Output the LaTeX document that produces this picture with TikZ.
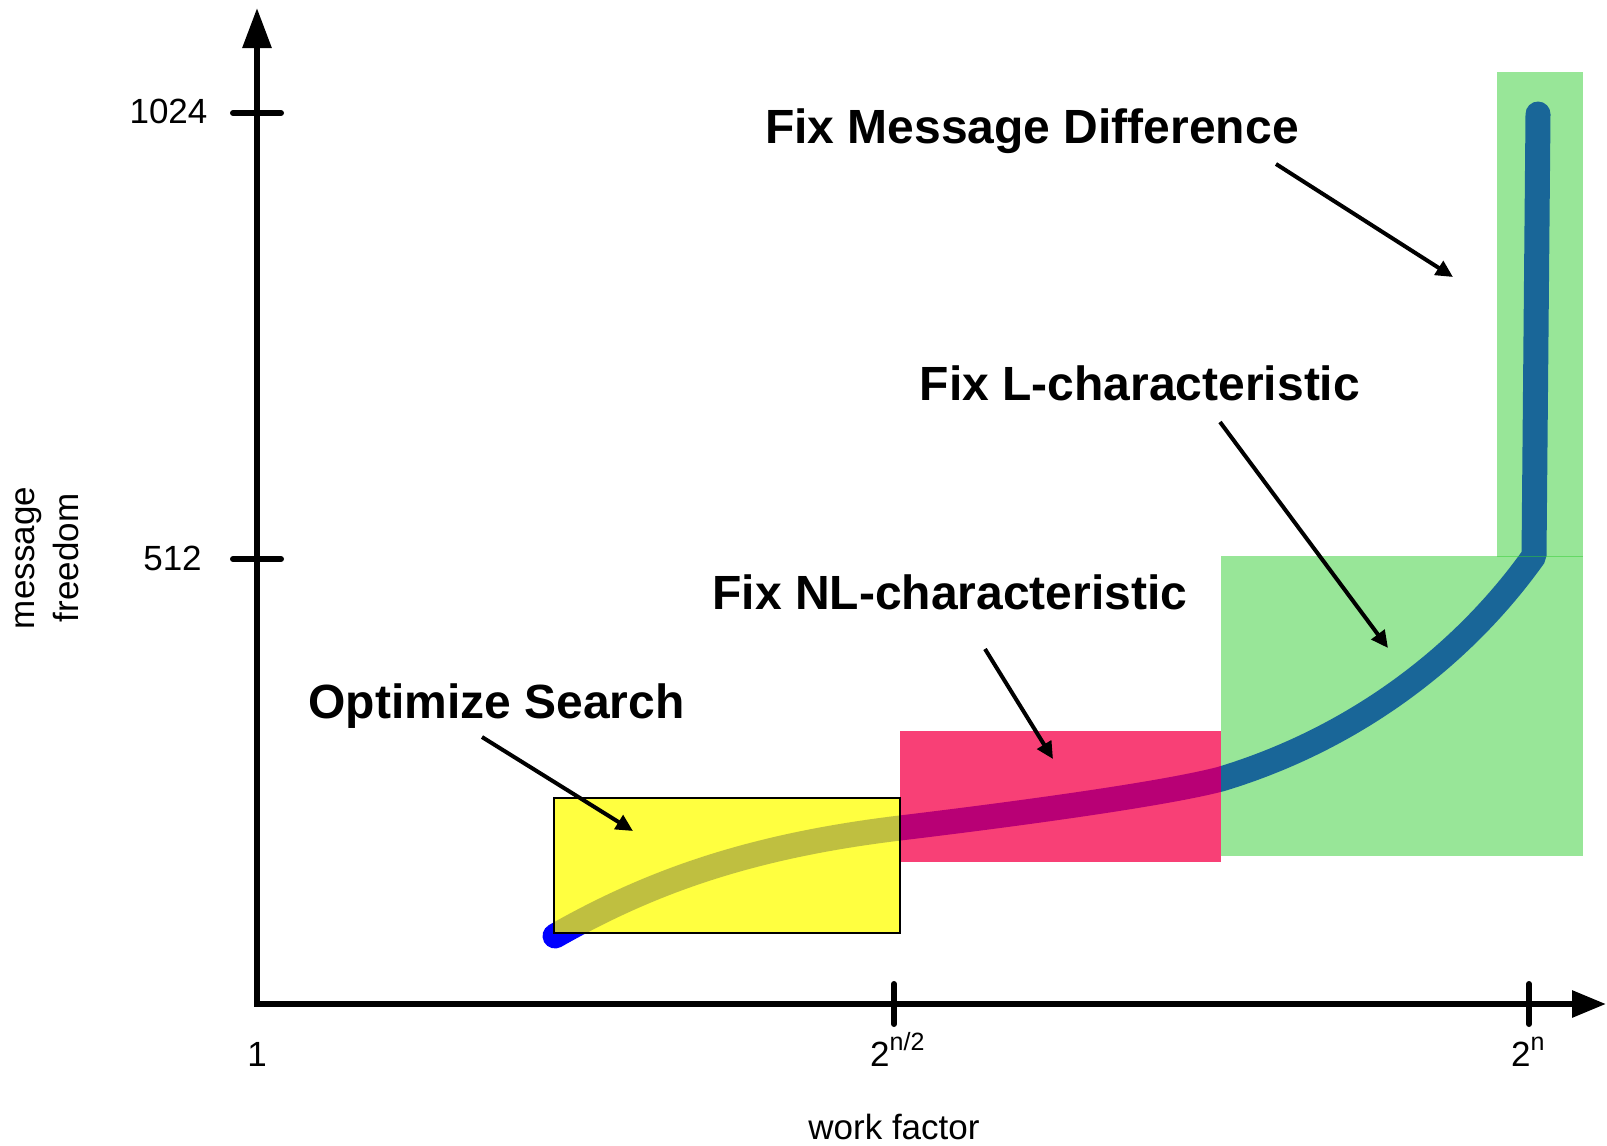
\documentclass[tikz,border=0pt]{standalone}
\usepackage{fontspec}
\setmainfont{Liberation Sans}
\usetikzlibrary{arrows.meta}
\definecolor{curveblue}{RGB}{0,0,255}
\definecolor{hlyellow}{RGB}{255,255,0}
\definecolor{hlpink}{RGB}{246,0,72}
\definecolor{hlgreen}{RGB}{50,205,50}
\begin{document}
\begin{tikzpicture}[x=1pt,y=-1pt,
  lbl/.style={font=\fontsize{35}{44}\selectfont, inner sep=0pt},
  headline/.style={font=\fontsize{48}{58}\selectfont\bfseries, inner sep=0pt, anchor=base},
  pointer/.style={line width=4pt, -{Triangle[length=17pt,width=16pt]}},
  axtick/.style={line width=6pt, line cap=round},
  workcurve/.style={line width=25pt, draw=curveblue, line cap=round, line join=bevel},
]
\path[use as bounding box] (0,0) rectangle (1607,1146);

% curve (under translucent regions)
\draw[workcurve] (555,936) .. controls (650,882) and (750,846) .. (900,828)
  .. controls (1000,816) and (1160,795) .. (1221,779)
  .. controls (1350,740) and (1460,660) .. (1534,556) -- (1538,114);

% regions
\fill[hlyellow, fill opacity=0.75] (554,798) rectangle (900,933);
\fill[hlpink, fill opacity=0.75] (900,731) rectangle (1221,862);
\fill[hlgreen, fill opacity=0.5] (1221,555.5) rectangle (1583,856);
\fill[hlgreen, fill opacity=0.5] (1497,72) rectangle (1583,557);
\draw[line width=1.5pt] (554,798) rectangle (900,933);

% axes
\coordinate (origin) at (257,1004);
\coordinate (ytop) at (257,8);
\coordinate (xend) at (1606,1004);
\draw[line width=6pt, {Triangle[length=40pt,width=28pt]}-{Triangle[length=34pt,width=26pt]}]
  (ytop) -- (origin) -- (xend);

% ticks
\coordinate (t1024a) at (233,113); \coordinate (t1024b) at (281,113);
\coordinate (t512a) at (233,559);  \coordinate (t512b) at (281,559);
\coordinate (thalfa) at (894,984); \coordinate (thalfb) at (894,1024);
\coordinate (tfulla) at (1529,984); \coordinate (tfullb) at (1529,1024);
\draw[axtick] (t1024a) -- (t1024b);
\draw[axtick] (t512a) -- (t512b);
\draw[axtick] (thalfa) -- (thalfb);
\draw[axtick] (tfulla) -- (tfullb);

% axis labels
\node[lbl, anchor=base] (l1024) at (168.5,123.5) {1024};
\node[lbl, anchor=base] (l512) at (172.5,570) {512};
\node[lbl, anchor=base] (l1) at (257,1066) {1};
\node[lbl, anchor=base west] (lhalf) at (870,1066) {2\raisebox{16pt}{\fontsize{25}{25}\selectfont n/2}};
\node[lbl, anchor=base west] (lfull) at (1511,1066) {2\raisebox{16pt}{\fontsize{25}{25}\selectfont n}};
\node[lbl, anchor=base] (xlabel) at (894,1139) {work factor};
\node[lbl, rotate=90, align=center] (ylabel) at (47,558) {message\\freedom};

% headlines
\node[headline] (tfmd) at (1032,143) {Fix Message Difference};
\node[headline] (tfl) at (1140,400) {Fix L-characteristic};
\node[headline] (tfnl) at (950,609) {Fix NL-characteristic};
\node[headline] (tos) at (496.5,718) {Optimize Search};

% pointers
\coordinate (p1s) at (482,737);  \coordinate (p1e) at (633,831);
\coordinate (p2s) at (985,649);  \coordinate (p2e) at (1053,759);
\coordinate (p3s) at (1220,422); \coordinate (p3e) at (1388,648);
\coordinate (p4s) at (1276,164); \coordinate (p4e) at (1453,277);
\draw[pointer] (p1s) -- (p1e);
\draw[pointer] (p2s) -- (p2e);
\draw[pointer] (p3s) -- (p3e);
\draw[pointer] (p4s) -- (p4e);
\end{tikzpicture}
\end{document}
